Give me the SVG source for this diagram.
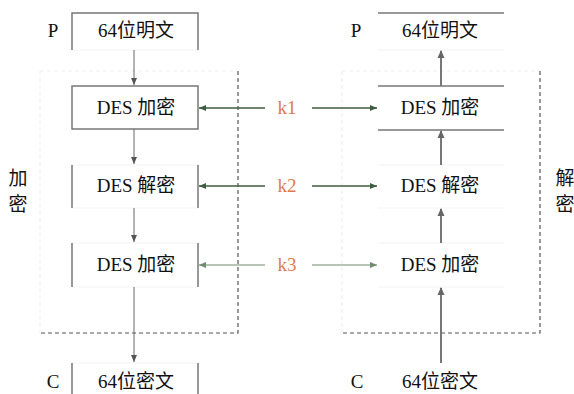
<svg xmlns="http://www.w3.org/2000/svg" width="574" height="394" viewBox="0 0 574 394">
  <style>
    .t { font-family: "Liberation Serif", "Noto Sans CJK SC", serif; font-size: 19px; fill: #111; text-anchor: middle; }
    .k { font-family: "Liberation Serif", "Noto Sans CJK SC", serif; font-size: 19px; fill: #e07a4e; text-anchor: middle; }
    .edge { stroke: #777; stroke-width: 1.5; fill: none; }
    .faint { stroke: #f3f3f3; stroke-width: 1; fill: none; }
    .dash { stroke: #555; stroke-width: 1.2; stroke-dasharray: 4 3; fill: none; }
    .dashf { stroke: #f0f0f0; stroke-width: 1.2; stroke-dasharray: 4 3; fill: none; }
    .flow { stroke: #666; stroke-width: 1; fill: none; }
    .flowb { stroke: #777; stroke-width: 2; fill: none; }
    .key { stroke: #3e5c3e; stroke-width: 1.5; fill: none; }
    .keyl { stroke: #6e8c6e; stroke-width: 1.2; fill: none; }
  </style>
  <defs>
    <marker id="ag" markerWidth="8" markerHeight="8" refX="7" refY="4" orient="auto" markerUnits="userSpaceOnUse">
      <path d="M0,1 L7,4 L0,7 Z" fill="#555"/>
    </marker>
    <marker id="agb" markerWidth="8" markerHeight="10" refX="7" refY="5" orient="auto" markerUnits="userSpaceOnUse">
      <path d="M0,1.5 L8,5 L0,8.5 Z" fill="#666"/>
    </marker>
    <marker id="ak" markerWidth="8" markerHeight="8" refX="7" refY="4" orient="auto" markerUnits="userSpaceOnUse">
      <path d="M0,1 L7,4 L0,7 Z" fill="#3e5c3e"/>
    </marker>
    <marker id="akl" markerWidth="8" markerHeight="8" refX="7" refY="4" orient="auto" markerUnits="userSpaceOnUse">
      <path d="M0,1 L7,4 L0,7 Z" fill="#6e8c6e"/>
    </marker>
  </defs>

  <!-- dashed group outlines -->
  <g id="enc-frame">
    <path class="dashf" d="M40,71 H238 M40,71 V333"/>
    <path class="dash" d="M238,71 V333 H40"/>
  </g>
  <g id="dec-frame">
    <path class="dashf" d="M342,71 H540 M342,71 V333"/>
    <path class="dash" d="M540,71 V333 H342"/>
  </g>

  <text class="t" x="18" y="185">加</text>
  <text class="t" x="18" y="211">密</text>
  <text class="t" x="565" y="185">解</text>
  <text class="t" x="565" y="211">密</text>

  <!-- encryption chain -->
  <g id="enc-p">
    <path class="faint" d="M72,50 H198"/>
    <path class="edge" d="M72,50 V13 H198 V50"/>
    <text class="t" x="53" y="37">P</text>
    <text class="t" x="136" y="37">64位明文</text>
  </g>
  <g id="enc-1">
    <rect class="edge" x="72" y="86" width="126" height="43"/>
    <text class="t" x="136" y="114">DES 加密</text>
  </g>
  <g id="enc-2">
    <path class="faint" d="M72,165 H198 M72,208 H198"/>
    <path class="edge" d="M72,165 V208 M198,165 V208"/>
    <text class="t" x="136" y="192">DES 解密</text>
  </g>
  <g id="enc-3">
    <path class="faint" d="M72,243 H198 M72,287 H198"/>
    <path class="edge" d="M72,243 V287 M198,243 V287"/>
    <text class="t" x="136" y="271">DES 加密</text>
  </g>
  <g id="enc-c">
    <path class="faint" d="M72,363 H198"/>
    <path class="edge" d="M72,363 V394 M198,363 V394"/>
    <text class="t" x="53" y="388">C</text>
    <text class="t" x="136" y="388">64位密文</text>
  </g>

  <!-- decryption chain -->
  <g id="dec-p">
    <path class="faint" d="M378,50 H504"/>
    <path class="edge" d="M378,13 H504"/>
    <text class="t" x="356" y="37">P</text>
    <text class="t" x="440" y="37">64位明文</text>
  </g>
  <g id="dec-1">
    <path class="edge" d="M378,86 H504 M378,130 H504"/>
    <text class="t" x="440" y="114">DES 加密</text>
  </g>
  <g id="dec-2">
    <path class="faint" d="M378,165 H504 M378,208 H504"/>
    <text class="t" x="440" y="192">DES 解密</text>
  </g>
  <g id="dec-3">
    <path class="faint" d="M378,243 H504 M378,287 H504"/>
    <text class="t" x="440" y="271">DES 加密</text>
  </g>
  <g id="dec-c">
    <text class="t" x="357" y="388">C</text>
    <text class="t" x="440" y="388">64位密文</text>
  </g>

  <!-- keys -->
  <g id="keys">
    <text class="k" x="287" y="114">k1</text>
    <text class="k" x="287" y="192">k2</text>
    <text class="k" x="287" y="271">k3</text>
  </g>

  <!-- connectors -->
  <g id="connectors">
    <path class="flow" d="M134,50 V85" marker-end="url(#ag)"/>
    <path class="flow" d="M134,129 V164" marker-end="url(#ag)"/>
    <path class="flow" d="M134,208 V242" marker-end="url(#ag)"/>
    <path class="flow" d="M134,287 V362" marker-end="url(#ag)"/>

    <path class="flowb" d="M441,363 V288" marker-end="url(#agb)"/>
    <path class="flowb" d="M441,243 V209" marker-end="url(#agb)"/>
    <path class="flowb" d="M441,165 V131" marker-end="url(#agb)"/>
    <path class="flowb" d="M441,86 V51" marker-end="url(#agb)"/>

    <path class="key" d="M265,108 H199" marker-end="url(#ak)"/>
    <path class="key" d="M312,108 H377" marker-end="url(#ak)"/>
    <path class="key" d="M265,186 H199" marker-end="url(#ak)"/>
    <path class="key" d="M312,186 H377" marker-end="url(#ak)"/>
    <path class="keyl" d="M265,265 H199" marker-end="url(#akl)"/>
    <path class="keyl" d="M312,265 H377" marker-end="url(#akl)"/>
  </g>
</svg>
